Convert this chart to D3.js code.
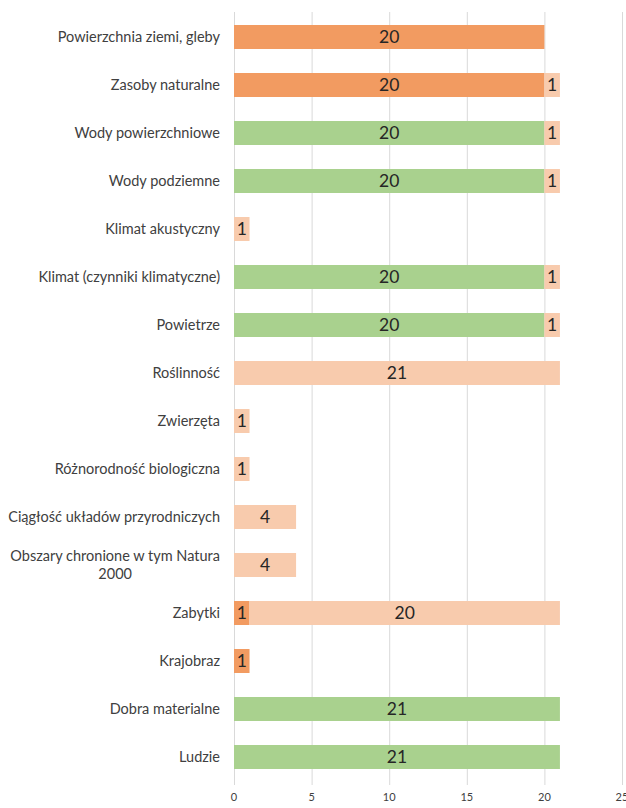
<!DOCTYPE html>
<html>
<head>
<meta charset="utf-8">
<script src="https://cdn.jsdelivr.net/npm/d3@7"></script>
<style>
  body { margin: 0; background: #fff; }
  svg text { font-family: Lato, "Open Sans", sans-serif; }
</style>
</head>
<body>
<div id="chart"></div>
<script>
const categories = [
  "Powierzchnia ziemi, gleby",
  "Zasoby naturalne",
  "Wody powierzchniowe",
  "Wody podziemne",
  "Klimat akustyczny",
  "Klimat (czynniki klimatyczne)",
  "Powietrze",
  "Roślinność",
  "Zwierzęta",
  "Różnorodność biologiczna",
  "Ciągłość układów przyrodniczych",
  "Obszary chronione w tym Natura 2000",
  "Zabytki",
  "Krajobraz",
  "Dobra materialne",
  "Ludzie"
];
const seriesOrange = [20, 20, 0, 0, 0, 0, 0, 0, 0, 0, 0, 0, 1, 1, 0, 0];
const seriesGreen  = [0, 0, 20, 20, 0, 20, 20, 0, 0, 0, 0, 0, 0, 0, 21, 21];
const seriesPeach  = [0, 1, 1, 1, 1, 1, 1, 21, 1, 1, 4, 4, 20, 0, 0, 0];
const xTicks = [0, 5, 10, 15, 20, 25];

const seriesKeys = ["orange", "green", "peach"];
const colors = { orange: "#F29B61", green: "#A9D18E", peach: "#F8CBAD" };

const width = 626, height = 808;
const x0 = 234, x1 = 622, yTop = 13, yBottom = 781;

const rows = categories.map((c, i) => ({
  cat: c, orange: seriesOrange[i], green: seriesGreen[i], peach: seriesPeach[i]
}));
const stacked = d3.stack().keys(seriesKeys)(rows);

const x = d3.scaleLinear().domain([0, 25]).range([x0, x1]);
const y = d3.scaleBand().domain(categories).range([yTop, yBottom]).paddingInner(0.5).paddingOuter(0.25);

const svg = d3.select("#chart").append("svg")
  .attr("width", width)
  .attr("height", height);

// gridlines
svg.append("g")
  .selectAll("line")
  .data(xTicks)
  .join("line")
  .attr("x1", d => x(d) + 0.5)
  .attr("x2", d => x(d) + 0.5)
  .attr("y1", 12)
  .attr("y2", 785)
  .attr("stroke", "#d9d9d9")
  .attr("stroke-width", 1);

// bars
const layers = svg.append("g")
  .selectAll("g")
  .data(stacked)
  .join("g")
  .attr("fill", d => colors[d.key]);

layers.selectAll("rect")
  .data(d => d.filter(s => s[1] - s[0] > 0))
  .join("rect")
  .attr("x", d => x(d[0]))
  .attr("y", d => y(d.data.cat))
  .attr("width", d => x(d[1]) - x(d[0]))
  .attr("height", y.bandwidth());

// data labels
layers.selectAll("text")
  .data(d => d.filter(s => s[1] - s[0] > 0))
  .join("text")
  .attr("x", d => (x(d[0]) + x(d[1])) / 2)
  .attr("y", d => y(d.data.cat) + y.bandwidth() / 2)
  .attr("dy", "0.36em")
  .attr("text-anchor", "middle")
  .attr("font-size", "17.5px")
  .attr("fill", "#262626")
  .text(d => d[1] - d[0]);

// category labels
const labelWrap = {
  "Obszary chronione w tym Natura 2000": ["Obszary chronione w tym Natura", "2000"]
};
const labelRight = 220;
const catLabels = svg.append("g")
  .selectAll("text")
  .data(categories)
  .join("text")
  .attr("font-size", "14.5px")
  .attr("fill", "#404040");

catLabels.each(function(d) {
  const t = d3.select(this);
  const cy = y(d) + y.bandwidth() / 2;
  const lines = labelWrap[d];
  if (lines) {
    t.attr("text-anchor", "middle");
    const spans = lines.map((ln, i) => t.append("tspan")
      .attr("y", cy + (i - (lines.length - 1) / 2) * 18)
      .attr("dy", "0.35em")
      .text(ln));
    const widest = d3.max(spans, s => s.node().getComputedTextLength());
    spans.forEach(s => s.attr("x", labelRight - widest / 2));
  } else {
    t.attr("text-anchor", "end")
      .attr("x", labelRight)
      .attr("y", cy)
      .attr("dy", "0.35em")
      .text(d);
  }
});

// x axis tick labels
svg.append("g")
  .selectAll("text")
  .data(xTicks)
  .join("text")
  .attr("x", d => x(d))
  .attr("y", 797)
  .attr("dy", "0.35em")
  .attr("text-anchor", "middle")
  .attr("font-size", "11px")
  .attr("fill", "#404040")
  .text(d => d);
</script>
</body>
</html>
